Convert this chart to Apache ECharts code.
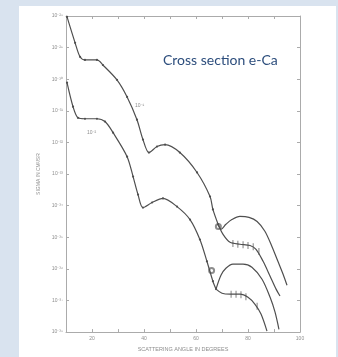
<!DOCTYPE html>
<html><head><meta charset="utf-8">
<script src="https://cdn.jsdelivr.net/npm/echarts/dist/echarts.min.js"></script>
<style>html,body{margin:0;padding:0;background:#d9e3ef;}#c{width:338px;height:357px;}</style>
</head><body><div id="c"></div>
<script>
// scattering angle (deg) and log10 of cross section (cm^2/sr)
const upperAngle = [10.4,13.5,15.4,17.3,21.9,24.2,29.6,33.5,37.3,39.6,41.9,45.0,48.1,53.8,60.4,65.4,66.5,68.5];
const upperLog   = [-28.03,-28.85,-29.29,-29.39,-29.39,-29.55,-30.02,-30.56,-31.28,-31.91,-32.32,-32.13,-32.07,-32.32,-32.95,-33.71,-34.12,-34.59];
const upperFitAngle = [68.5,70.4,73.1,76.9,80.8,83.1,85.8,88.5,90.8,92.3];
const upperFitLog   = [-34.59,-34.91,-35.16,-35.22,-35.26,-35.38,-35.76,-36.23,-36.64,-36.86];
const upperAltAngle = [68.5,69.6,71.5,73.8,76.9,80.4,83.5,86.5,89.2,91.5,93.5,95.0];
const upperAltLog   = [-34.59,-34.75,-34.59,-34.44,-34.34,-34.37,-34.50,-34.81,-35.29,-35.76,-36.17,-36.52];
const lowerAngle = [10.4,12.7,14.6,17.3,21.9,25.0,28.1,33.5,35.8,37.7,39.6,43.1,47.3,52.7,57.7,61.5,64.2,66.5,67.7];
const lowerLog   = [-30.11,-30.87,-31.22,-31.25,-31.25,-31.34,-31.69,-32.45,-33.08,-33.65,-34.06,-33.90,-33.77,-34.03,-34.44,-35.07,-35.76,-36.39,-36.64];
const lowerAltAngle = [67.7,69.6,71.5,74.2,78.1,81.5,85.4,88.5,90.4,91.9];
const lowerAltLog   = [-36.64,-36.20,-35.98,-35.85,-35.85,-35.95,-36.33,-36.90,-37.37,-37.91];
const lowerFitAngle = [67.7,70.0,73.1,76.9,80.0,82.7,85.0,87.3];
const lowerFitLog   = [-36.64,-36.77,-36.80,-36.80,-36.90,-37.12,-37.43,-37.97];
const upperDataAngle = [74.2,76.1,78.1,80.0,82.0,84.2];
const upperDataLog   = [-35.20,-35.22,-35.24,-35.26,-35.30,-35.45];
const lowerDataAngle = [73.5,75.4,77.3,79.2,83.5];
const lowerDataLog   = [-36.80,-36.80,-36.82,-36.88,-37.18];
const circleAngle = [68.6,66.0];
const circleLog   = [-34.66,-36.05];
const xLabelValues = [20,40,60,80,100];
const chartTitle = 'Cross section e-Ca';
const xTitle = 'SCATTERING ANGLE IN DEGREES';
const yTitle = 'SIGMA IN CM²/SR';
const curveNotes = ['10⁻¹','10⁻²'];

const sup = {'-':'⁻','0':'⁰','1':'¹','2':'²','3':'³','4':'⁴','5':'⁵','6':'⁶','7':'⁷','8':'⁸','9':'⁹'};
const toSup = s => String(s).split('').map(c => sup[c] || c).join('');
const pairs = (a, b) => a.map((v, i) => [v, b[i]]);

const chart = echarts.init(document.getElementById('c'), null, {renderer: 'canvas'});
const lineColor = '#4f4f4f';
const axisColor = '#ababab';
const lineSeries = (a, b, dots) => ({
  type: 'line', data: pairs(a, b), xAxisIndex: 0, yAxisIndex: 0,
  showSymbol: !!dots, symbol: 'circle', symbolSize: 2.2, smooth: 0.3,
  lineStyle: {color: lineColor, width: 1.2}, itemStyle: {color: lineColor},
  silent: true, animation: false
});
const axisCommon = {
  axisLine: {show: true, lineStyle: {color: axisColor, width: 1}},
  axisTick: {show: true, inside: true, length: 3, lineStyle: {color: axisColor}},
  splitLine: {show: false}
};
chart.setOption({
  animation: false,
  backgroundColor: 'transparent',
  title: {
    text: chartTitle, left: 158, top: 48,
    textStyle: {color: '#2c4d7c', fontSize: 14, fontWeight: 'normal', fontFamily: 'Lato'}
  },
  graphic: [
    {type: 'rect', z: -10, shape: {x: 19, y: 6, width: 317, height: 351}, style: {fill: '#ffffff'}},
    {type: 'text', left: 135, top: 103, style: {text: curveNotes[0], fill: '#8e8e8e', fontSize: 5}},
    {type: 'text', left: 87, top: 130, style: {text: curveNotes[1], fill: '#8e8e8e', fontSize: 5}}
  ],
  grid: {left: 66, right: 38, top: 16, bottom: 24},
  xAxis: [
    Object.assign({
      type: 'value', min: 10, max: 100, interval: 10, position: 'bottom',
      name: xTitle, nameLocation: 'middle', nameGap: 12,
      nameTextStyle: {color: '#8e8e8e', fontSize: 5.5, fontFamily: 'Liberation Sans'},
      axisLabel: {color: '#8e8e8e', fontSize: 5, margin: 4,
        formatter: v => xLabelValues.indexOf(v) >= 0 ? String(v) : ''}
    }, axisCommon),
    Object.assign({
      type: 'value', min: 10, max: 100, interval: 10, position: 'top',
      axisLabel: {show: false}
    }, axisCommon)
  ],
  yAxis: [
    Object.assign({
      type: 'value', min: -38, max: -28, interval: 1, position: 'left',
      name: yTitle, nameLocation: 'middle', nameGap: 19, nameRotate: 90,
      nameTextStyle: {color: '#8e8e8e', fontSize: 5, fontFamily: 'Liberation Sans'},
      axisLabel: {color: '#8e8e8e', fontSize: 5, margin: 3, formatter: v => '10' + toSup(v)}
    }, axisCommon),
    Object.assign({
      type: 'value', min: -38, max: -28, interval: 1, position: 'right',
      axisLabel: {show: false}
    }, axisCommon)
  ],
  series: [
    lineSeries(upperAngle, upperLog, true),
    lineSeries(upperFitAngle, upperFitLog),
    lineSeries(upperAltAngle, upperAltLog),
    lineSeries(lowerAngle, lowerLog, true),
    lineSeries(lowerAltAngle, lowerAltLog),
    lineSeries(lowerFitAngle, lowerFitLog),
    {type: 'scatter', data: pairs(upperDataAngle, upperDataLog).concat(pairs(lowerDataAngle, lowerDataLog)),
     symbol: 'rect', symbolSize: [1, 7], itemStyle: {color: '#626262'}, silent: true},
    {type: 'scatter', data: pairs(circleAngle, circleLog), symbol: 'emptyCircle', symbolSize: 5,
     itemStyle: {color: '#707070', borderColor: '#707070', borderWidth: 0.8}, silent: true}
  ]
});
</script></body></html>
